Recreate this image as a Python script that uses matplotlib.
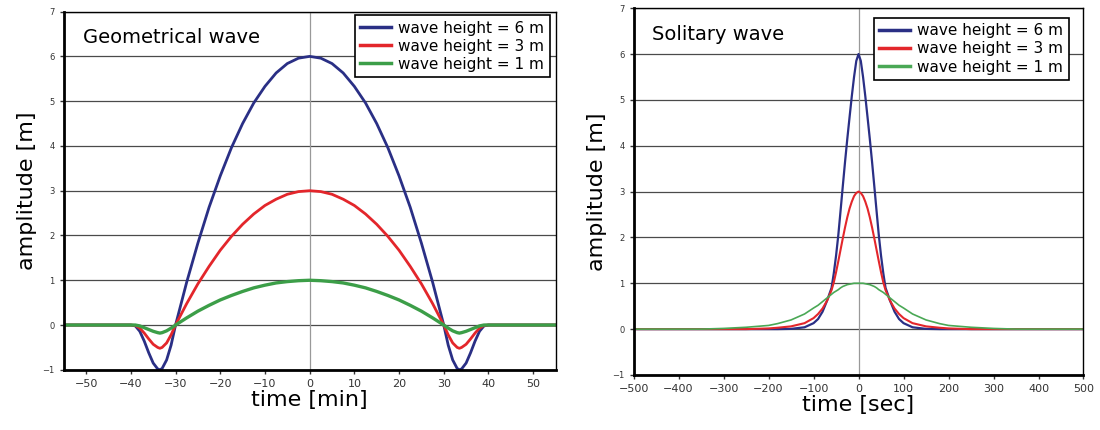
import matplotlib
matplotlib.use('Agg')
import matplotlib.pyplot as plt

# Geometrical wave, time in minutes
geo_time = [-55, -40, -39, -38, -37, -36, -35, -34, -33.5, -33, -32, -31, -30,
            -27.5, -25, -22.5, -20, -17.5, -15, -12.5, -10, -7.5, -5, -2.5, 0,
            2.5, 5, 7.5, 10, 12.5, 15, 17.5, 20, 22.5, 25, 27.5,
            30, 31, 32, 33, 33.5, 34, 35, 36, 37, 38, 39, 40, 55]
geo_6m = [0, 0, -0.02, -0.14, -0.36, -0.62, -0.85, -0.98, -1.0, -0.97, -0.78, -0.45, 0.0,
          0.96, 1.83, 2.63, 3.33, 3.96, 4.5, 4.96, 5.33, 5.63, 5.84, 5.96, 6.0,
          5.96, 5.84, 5.63, 5.33, 4.96, 4.5, 3.96, 3.33, 2.63, 1.83, 0.96,
          0.0, -0.45, -0.78, -0.97, -1.0, -0.98, -0.85, -0.62, -0.36, -0.14, -0.02, 0, 0]
geo_3m = [0, 0, -0.01, -0.07, -0.18, -0.31, -0.43, -0.5, -0.52, -0.5, -0.4, -0.22, 0.0,
          0.48, 0.92, 1.31, 1.67, 1.98, 2.25, 2.48, 2.67, 2.81, 2.92, 2.98, 3.0,
          2.98, 2.92, 2.81, 2.67, 2.48, 2.25, 1.98, 1.67, 1.31, 0.92, 0.48,
          0.0, -0.22, -0.4, -0.5, -0.52, -0.5, -0.43, -0.31, -0.18, -0.07, -0.01, 0, 0]
geo_1m = [0, 0, 0, -0.02, -0.06, -0.1, -0.14, -0.17, -0.18, -0.17, -0.13, -0.07, 0.0,
          0.16, 0.31, 0.44, 0.56, 0.66, 0.75, 0.83, 0.89, 0.94, 0.97, 0.99, 1.0,
          0.99, 0.97, 0.94, 0.89, 0.83, 0.75, 0.66, 0.56, 0.44, 0.31, 0.16,
          0.0, -0.07, -0.13, -0.17, -0.18, -0.17, -0.14, -0.1, -0.06, -0.02, 0, 0, 0]

# Solitary wave, time in seconds
sol_time = [-500, -350, -300, -250, -200, -180, -150, -120, -100, -90, -80, -70, -60, -55, -50,
            -45, -40, -35, -30, -25, -20, -15, -10, -5, 0,
            5, 10, 15, 20, 25, 30, 35, 40, 45, 50, 55, 60, 70, 80, 90, 100,
            120, 150, 180, 200, 250, 300, 350, 500]
sol_6m = [0, 0, 0, 0, 0, 0, 0.005, 0.04, 0.13, 0.22, 0.38, 0.62, 0.9, 1.22, 1.6,
          2.05, 2.58, 3.12, 3.65, 4.15, 4.62, 5.08, 5.5, 5.85, 6.0,
          5.85, 5.5, 5.08, 4.62, 4.15, 3.65, 3.12, 2.58, 2.05, 1.6, 1.22, 0.9, 0.62, 0.38, 0.22, 0.13,
          0.04, 0.005, 0, 0, 0, 0, 0, 0]
sol_3m = [0, 0, 0, 0, 0.015, 0.03, 0.06, 0.13, 0.24, 0.33, 0.45, 0.62, 0.85, 1.02, 1.24,
          1.48, 1.73, 1.98, 2.22, 2.44, 2.63, 2.78, 2.9, 2.97, 3.0,
          2.97, 2.9, 2.78, 2.63, 2.44, 2.22, 1.98, 1.73, 1.48, 1.24, 1.02, 0.85, 0.62, 0.45, 0.33, 0.24,
          0.13, 0.06, 0.03, 0.015, 0, 0, 0, 0]
sol_1m = [0, 0, 0.015, 0.04, 0.08, 0.12, 0.2, 0.33, 0.46, 0.52, 0.6, 0.68, 0.76, 0.8, 0.83,
          0.86, 0.9, 0.93, 0.95, 0.97, 0.98, 0.99, 1.0, 1.0, 1.0,
          1.0, 1.0, 0.99, 0.98, 0.97, 0.95, 0.93, 0.9, 0.86, 0.83, 0.8, 0.76, 0.68, 0.6, 0.52, 0.46,
          0.33, 0.2, 0.12, 0.08, 0.04, 0.015, 0, 0]

labels = ['wave height = 6 m', 'wave height = 3 m', 'wave height = 1 m']
BLUE = '#2a2f85'
RED = '#e3262b'
GREEN = '#3c9e48'


def style_axes(axes, title, xlabel, xticks, xlim, legend_anchor):
    axes.set_xlim(*xlim)
    axes.set_ylim(-1, 7)
    axes.set_yticks(range(-1, 8))
    axes.set_xticks(xticks)
    axes.yaxis.grid(True, color='#4a4a4a', linewidth=0.9)
    axes.set_axisbelow(True)
    axes.axvline(0, color='#999999', linewidth=0.9, zorder=1)
    axes.tick_params(axis='x', labelsize=8, colors='#333333', length=3, width=1)
    axes.tick_params(axis='y', labelsize=6, colors='#333333', length=3, width=1)
    # Heavy left and bottom spines, light top and right
    axes.spines['left'].set_linewidth(2)
    axes.spines['bottom'].set_linewidth(2)
    axes.spines['top'].set_linewidth(1)
    axes.spines['right'].set_linewidth(1)
    axes.set_xlabel(xlabel, fontsize=16, labelpad=1)
    axes.set_ylabel('amplitude [m]', fontsize=16, labelpad=4)
    axes.text(0.04, 0.955, title, transform=axes.transAxes, fontsize=14, va='top', ha='left')
    legend = axes.legend(loc='upper right', bbox_to_anchor=legend_anchor, fontsize=11,
                         frameon=True, fancybox=False, borderaxespad=0, handlelength=2.0,
                         handletextpad=0.5, labelspacing=0.2, borderpad=0.35)
    legend.get_frame().set_edgecolor('black')
    legend.get_frame().set_linewidth(1.2)
    legend.get_frame().set_alpha(1)
    for line in legend.get_lines():
        line.set_linewidth(2.5)


plt.rcParams['font.family'] = 'DejaVu Sans'
figure = plt.figure(figsize=(11, 4.3), dpi=100)

ax_geo = figure.add_axes([0.058, 0.14, 0.447, 0.833])
ax_geo.plot(geo_time, geo_6m, color=BLUE, linewidth=2.0, label=labels[0])
ax_geo.plot(geo_time, geo_3m, color=RED, linewidth=2.0, label=labels[1])
ax_geo.plot(geo_time, geo_1m, color=GREEN, linewidth=2.4, label=labels[2])
style_axes(ax_geo, 'Geometrical wave', 'time [min]', range(-50, 51, 10), (-55, 55), (0.988, 0.99))

ax_sol = figure.add_axes([0.576, 0.128, 0.409, 0.853])
ax_sol.plot(sol_time, sol_6m, color=BLUE, linewidth=1.6, label=labels[0])
ax_sol.plot(sol_time, sol_3m, color=RED, linewidth=1.5, label=labels[1])
ax_sol.plot(sol_time, sol_1m, color='#4aa855', linewidth=1.2, label=labels[2])
style_axes(ax_sol, 'Solitary wave', 'time [sec]', range(-500, 501, 100), (-500, 500), (0.967, 0.973))

figure.savefig('out.png', dpi=100, facecolor='white')
